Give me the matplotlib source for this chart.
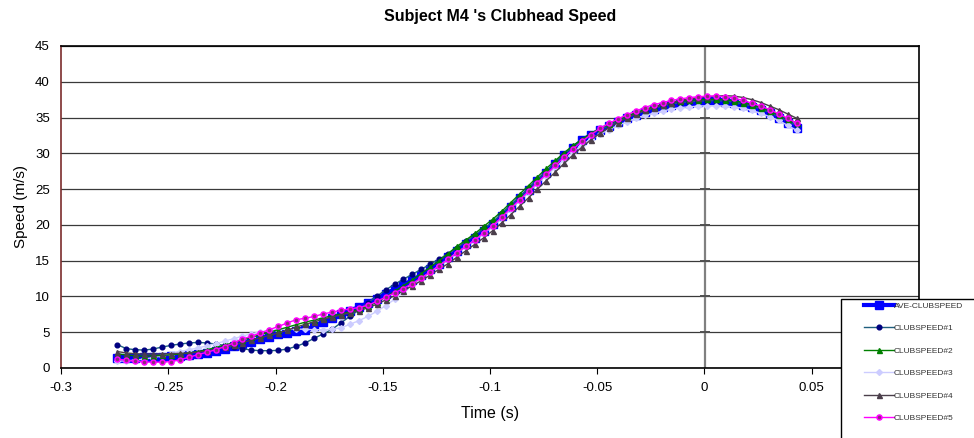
# Clubhead speed of subject M4, five swings plus their average
import numpy as np
import matplotlib
matplotlib.use("Agg")
from matplotlib import pyplot as plt
from matplotlib.patches import Rectangle

plt.rcParams['font.family'] = ['Liberation Sans', 'DejaVu Sans']

# time (s), sampled at 240 Hz
time_s = [-0.2737, -0.2695, -0.2654, -0.2612, -0.2570, -0.2529, -0.2487, -0.2445,
          -0.2404, -0.2362, -0.2320, -0.2279, -0.2237, -0.2195, -0.2154, -0.2112,
          -0.2070, -0.2029, -0.1987, -0.1945, -0.1904, -0.1862, -0.1820, -0.1779,
          -0.1737, -0.1695, -0.1654, -0.1612, -0.1570, -0.1529, -0.1487, -0.1445,
          -0.1404, -0.1362, -0.1320, -0.1279, -0.1237, -0.1195, -0.1154, -0.1112,
          -0.1070, -0.1029, -0.0987, -0.0945, -0.0904, -0.0862, -0.0820, -0.0779,
          -0.0737, -0.0695, -0.0654, -0.0612, -0.0570, -0.0529, -0.0487, -0.0445,
          -0.0404, -0.0362, -0.0320, -0.0279, -0.0237, -0.0195, -0.0154, -0.0112,
          -0.0070, -0.0029, 0.0013, 0.0055, 0.0096, 0.0138, 0.0180, 0.0221,
          0.0263, 0.0305, 0.0346, 0.0388, 0.0430]

ave_speed = [1.45, 1.45, 1.45, 1.5, 1.55, 1.58, 1.62, 1.72, 1.82, 1.95, 2.15, 2.4,
             2.7, 3.05, 3.35, 3.7, 4.05, 4.4, 4.7, 4.95, 5.15, 5.35, 5.8, 6.4,
             7.0, 7.5, 8.0, 8.5, 9.1, 9.7, 10.35, 11.0, 11.6, 12.3, 13.0, 13.8,
             14.6, 15.5, 16.4, 17.3, 18.2, 19.1, 20.1, 21.3, 22.5, 23.7, 24.9, 26.1,
             27.3, 28.5, 29.7, 30.8, 31.8, 32.6, 33.2, 33.8, 34.4, 34.9, 35.4, 35.8,
             36.2, 36.5, 36.8, 37.0, 37.1, 37.2, 37.25, 37.25, 37.2, 37.05, 36.8, 36.5,
             36.1, 35.6, 35.0, 34.3, 33.6]

speed_1 = [3.26, 2.7, 2.56, 2.5, 2.65, 2.93, 3.16, 3.35, 3.49, 3.58, 3.5, 3.35,
           3.15, 2.9, 2.7, 2.5, 2.42, 2.42, 2.46, 2.65, 3.02, 3.5, 4.15, 4.75,
           5.4, 6.3, 7.2, 8.1, 9.1, 10.0, 10.9, 11.7, 12.4, 13.1, 13.8, 14.5,
           15.2, 16.0, 16.8, 17.7, 18.6, 19.5, 20.4, 21.6, 22.7, 23.9, 25.1, 26.3,
           27.5, 28.7, 29.9, 30.9, 31.9, 32.7, 33.3, 33.9, 34.5, 35.0, 35.5, 35.9,
           36.3, 36.6, 36.9, 37.1, 37.2, 37.3, 37.35, 37.35, 37.3, 37.15, 36.9, 36.6,
           36.2, 35.7, 35.1, 34.5, 33.9]

speed_2 = [2.0, 1.8, 1.7, 1.65, 1.7, 1.75, 1.85, 1.95, 2.1, 2.3, 2.55, 2.85,
           3.2, 3.55, 3.9, 4.3, 4.65, 5.0, 5.35, 5.7, 6.05, 6.4, 6.7, 7.0,
           7.3, 7.55, 7.85, 8.2, 8.6, 9.2, 9.9, 10.7, 11.5, 12.3, 13.2, 14.1,
           15.0, 16.0, 17.0, 17.9, 18.8, 19.8, 20.8, 21.9, 23.1, 24.3, 25.5, 26.7,
           27.9, 29.0, 30.1, 31.1, 32.0, 32.8, 33.5, 34.1, 34.7, 35.2, 35.7, 36.1,
           36.5, 36.8, 37.1, 37.3, 37.4, 37.5, 37.55, 37.55, 37.5, 37.35, 37.1, 36.8,
           36.4, 35.9, 35.4, 34.8, 34.2]

speed_3 = [0.95, 1.0, 1.1, 1.25, 1.45, 1.7, 2.0, 2.3, 2.55, 2.8, 3.1, 3.4,
           3.75, 4.1, 4.45, 4.8, 5.05, 5.25, 5.35, 5.45, 5.45, 5.4, 5.35, 5.35,
           5.4, 5.6, 6.1, 6.6, 7.2, 7.9, 8.7, 9.6, 10.6, 11.6, 12.5, 13.4,
           14.3, 15.2, 16.1, 17.0, 17.9, 18.8, 19.8, 21.0, 22.2, 23.4, 24.6, 25.8,
           26.9, 28.0, 29.1, 30.2, 31.2, 32.0, 32.7, 33.3, 33.9, 34.4, 34.9, 35.3,
           35.6, 35.9, 36.2, 36.4, 36.5, 36.6, 36.65, 36.65, 36.6, 36.5, 36.3, 36.0,
           35.6, 35.1, 34.6, 33.9, 33.2]

speed_4 = [2.3, 2.1, 2.0, 1.95, 1.95, 1.95, 2.0, 2.05, 2.1, 2.2, 2.4, 2.6,
           2.9, 3.2, 3.55, 3.9, 4.25, 4.55, 4.9, 5.3, 5.7, 6.1, 6.45, 6.8,
           7.1, 7.4, 7.7, 8.0, 8.4, 8.9, 9.5, 10.1, 10.8, 11.5, 12.2, 13.0,
           13.8, 14.6, 15.5, 16.4, 17.3, 18.2, 19.2, 20.3, 21.4, 22.6, 23.8, 25.0,
           26.2, 27.4, 28.6, 29.8, 30.9, 31.9, 32.8, 33.6, 34.3, 34.9, 35.5, 36.0,
           36.4, 36.8, 37.1, 37.4, 37.6, 37.8, 37.9, 38.0, 38.05, 38.0, 37.8, 37.5,
           37.1, 36.6, 36.1, 35.5, 34.9]

speed_5 = [1.26, 1.06, 0.95, 0.85, 0.8, 0.82, 0.9, 1.15, 1.5, 1.86, 2.2, 2.55,
           3.0, 3.5, 4.05, 4.45, 4.9, 5.35, 5.8, 6.3, 6.75, 6.95, 7.2, 7.55,
           7.8, 8.05, 8.25, 8.45, 8.75, 9.3, 9.9, 10.5, 11.1, 11.8, 12.6, 13.4,
           14.3, 15.2, 16.1, 17.0, 17.9, 18.9, 19.9, 21.1, 22.3, 23.5, 24.7, 25.9,
           27.1, 28.3, 29.5, 30.6, 31.7, 32.6, 33.5, 34.2, 34.8, 35.4, 35.9, 36.4,
           36.8, 37.1, 37.4, 37.6, 37.8, 37.9, 38.0, 38.0, 37.9, 37.7, 37.4, 37.0,
           36.6, 36.1, 35.5, 34.9, 34.2]

labels = ['AVE-CLUBSPEED', 'CLUBSPEED#1', 'CLUBSPEED#2', 'CLUBSPEED#3',
          'CLUBSPEED#4', 'CLUBSPEED#5']

fig = plt.figure(figsize=(9.74, 4.38), dpi=100)
ax = fig.add_axes([61/974, 1-368/438, (919-61)/974, (368-46)/438])

ax.plot(time_s, ave_speed, color='#0000FF', lw=3, marker='s', ms=5.2,
        mec='#0000FF', label=labels[0], zorder=3)
ax.plot(time_s, speed_1, color='#1F5F7F', lw=1, marker='o', ms=3.4,
        mfc='#000080', mec='#000080', label=labels[1], zorder=4)
ax.plot(time_s, speed_2, color='#008000', lw=1, marker='^', ms=3.6,
        mfc='#008000', mec='#008000', label=labels[2], zorder=5)
ax.plot(time_s, speed_3, color='#CCCCFF', lw=1, marker='D', ms=3.0,
        mfc='#CCCCFF', mec='#CCCCFF', label=labels[3], zorder=4.5)
ax.plot(time_s, speed_4, color='#4B3F4B', lw=1, marker='^', ms=3.6,
        mfc='#4B3F4B', mec='#4B3F4B', label=labels[4], zorder=6)
ax.plot(time_s, speed_5, color='#FF00FF', lw=1, marker='o', ms=3.6,
        mfc='#8B2B7B', mec='#FF00FF', mew=1.1, label=labels[5], zorder=7)

ax.set_xlim(-0.3, 0.1)
ax.set_ylim(0, 45)
ax.set_xticks(np.arange(-0.3, 0.101, 0.05))
ax.set_xticklabels(['-0.3', '-0.25', '-0.2', '-0.15', '-0.1', '-0.05', '0', '0.05', '0.1'])
ax.set_yticks(range(0, 46, 5))
ax.tick_params(axis='x', direction='out', length=4, width=0.8, labelsize=9.5, pad=6)
ax.tick_params(axis='y', length=0, labelsize=9.5, pad=8)
ax.grid(axis='y', color='#3a3a3a', lw=0.9)
ax.set_axisbelow(True)

# value axis crossing at x = 0
ax.axvline(0, color='#808080', lw=1.6, zorder=1)
ax.plot([0] * 9, range(5, 46, 5), ls='none', marker='_', ms=7, mew=1.4,
        color='#505050', zorder=1)

ax.spines['left'].set_color('#7B2C2C')
for s in ['top', 'right', 'bottom']:
    ax.spines[s].set_color('black')
for s in ax.spines.values():
    s.set_linewidth(1.2)

ax.set_xlabel('Time (s)', fontsize=11.5, labelpad=9)
ax.set_ylabel('Speed (m/s)', fontsize=11, labelpad=5)
fig.text(500/974, 1-17/438, "Subject M4 's Clubhead Speed", ha='center',
         va='center', fontsize=11.5, fontweight='bold')

# legend box (runs off the figure edge as in the original)
fig.add_artist(Rectangle((841/974, 1-445/438), 140/974, 146/438,
                         transform=fig.transFigure, facecolor='white',
                         edgecolor='black', lw=1, zorder=5))
handles, labs = ax.get_legend_handles_labels()
leg = fig.legend(handles, labs, loc='upper left',
                 bbox_to_anchor=(864/974, 1-302/438), frameon=False,
                 fontsize=6, handlelength=3.6, handletextpad=0.0,
                 labelspacing=1.75, borderpad=0, borderaxespad=0)
leg.set_zorder(6)
for t in leg.get_texts():
    t.set_color('#333333')

fig.savefig('out.png', dpi=100)
